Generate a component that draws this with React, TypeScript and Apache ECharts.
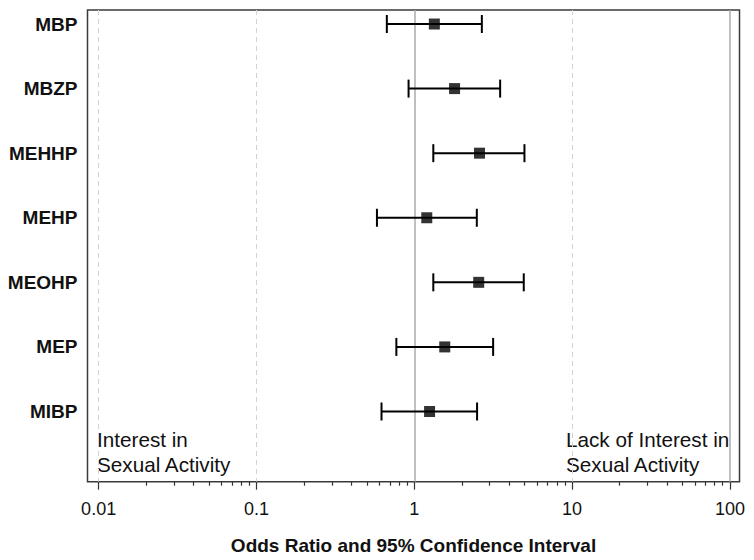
import React, { useEffect, useRef } from "react";
import * as echarts from "echarts";

const categories = ["MBP", "MBZP", "MEHHP", "MEHP", "MEOHP", "MEP", "MIBP"];
const oddsRatios = [1.34, 1.8, 2.59, 1.2, 2.56, 1.56, 1.25];
const lowerCI = [0.67, 0.92, 1.32, 0.58, 1.32, 0.77, 0.62];
const upperCI = [2.68, 3.5, 4.99, 2.49, 4.94, 3.16, 2.5];

const majorTicks = [0.01, 0.1, 1, 10, 100];
const majorTickLabels = ["0.01", "0.1", "1", "10", "100"];
const minorTicks = [
  0.02, 0.03, 0.04, 0.05, 0.06, 0.07, 0.08, 0.09,
  0.2, 0.3, 0.4, 0.5, 0.6, 0.7, 0.8, 0.9,
  2, 3, 4, 5, 6, 7, 8, 9,
  20, 30, 40, 50, 60, 70, 80, 90,
];
const solidRefLines = [1, 100];
const dashedRefLines = [0.01, 0.1, 10];
const xRange = [0.0085, 115];
const axisTitle = "Odds Ratio and 95% Confidence Interval";
const leftNote = "Interest in\nSexual Activity";
const rightNote = "Lack of Interest in\nSexual Activity";

const FONT = "'Liberation Sans', Arial, Helvetica, sans-serif";
const lg = (v: number) => Math.log10(v);

export default function App() {
  const ref = useRef<HTMLDivElement>(null);

  useEffect(() => {
    if (!ref.current) return;
    const chart = echarts.init(ref.current, null, { renderer: "svg" });

    const majorLog = majorTicks.map(lg);
    const minorLog = minorTicks.map(lg);
    const fmtMajor = (v: number) => {
      const i = majorLog.findIndex((m) => Math.abs(m - v) < 1e-6);
      return i >= 0 ? majorTickLabels[i] : "";
    };

    const ciData = categories.map((_, i) => [lg(lowerCI[i]), lg(upperCI[i]), i]);
    const pointData = categories.map((_, i) => [lg(oddsRatios[i]), i]);

    const option: any = {
      animation: false,
      backgroundColor: "#ffffff",
      textStyle: { fontFamily: FONT },
      grid: {
        left: 87.5,
        right: 14.5,
        top: 10,
        bottom: 78.3,
        show: true,
        borderColor: "#3a3a3a",
        borderWidth: 1.5,
        backgroundColor: "transparent",
        outerBoundsMode: "none",
        containLabel: false,
      },
      xAxis: [
        {
          type: "value",
          position: "bottom",
          min: lg(xRange[0]),
          max: lg(xRange[1]),
          axisLine: { show: false, onZero: false },
          axisTick: {
            show: true,
            customValues: majorLog,
            length: 8,
            lineStyle: { color: "#333", width: 1.2 },
          },
          axisLabel: {
            show: true,
            customValues: majorLog,
            formatter: fmtMajor,
            fontSize: 18,
            color: "#111",
            margin: 18,
            fontFamily: FONT,
          },
          splitLine: { show: false },
          name: axisTitle,
          nameLocation: "middle",
          nameGap: 54,
          nameMoveOverlap: false,
          nameTextStyle: {
            fontSize: 19,
            fontWeight: "bold",
            color: "#111",
            fontFamily: FONT,
          },
        },
        {
          type: "value",
          position: "bottom",
          min: lg(xRange[0]),
          max: lg(xRange[1]),
          axisLine: { show: false, onZero: false },
          axisTick: {
            show: true,
            customValues: minorLog,
            length: 4,
            lineStyle: { color: "#333", width: 1.2 },
          },
          axisLabel: { show: false },
          splitLine: { show: false },
        },
      ],
      yAxis: {
        type: "value",
        inverse: true,
        min: -0.217,
        max: 7.087,
        axisLine: { show: false, onZero: false },
        axisTick: { show: false },
        splitLine: { show: false },
        axisLabel: {
          show: true,
          customValues: categories.map((_, i) => i),
          formatter: (v: number) => categories[Math.round(v)] ?? "",
          fontSize: 19,
          fontWeight: "bold",
          color: "#111",
          margin: 10,
          fontFamily: FONT,
        },
      },
      series: [
        {
          type: "custom",
          xAxisIndex: 0,
          yAxisIndex: 0,
          z: 3,
          data: ciData,
          encode: { x: [0, 1], y: 2 },
          renderItem: (_params: any, api: any) => {
            const lo = api.coord([api.value(0), api.value(2)]);
            const hi = api.coord([api.value(1), api.value(2)]);
            const h = 9;
            const st = { stroke: "#000", lineWidth: 2 };
            return {
              type: "group",
              children: [
                { type: "line", shape: { x1: lo[0], y1: lo[1], x2: hi[0], y2: hi[1] }, style: st },
                { type: "line", shape: { x1: lo[0], y1: lo[1] - h, x2: lo[0], y2: lo[1] + h }, style: st },
                { type: "line", shape: { x1: hi[0], y1: hi[1] - h, x2: hi[0], y2: hi[1] + h }, style: st },
              ],
            };
          },
          silent: true,
          markLine: {
            silent: true,
            z: 1,
            symbol: ["none", "none"],
            label: { show: false },
            lineStyle: { color: "#d2d2d2", type: [5, 4], width: 1 },
            data: dashedRefLines.map((v) => ({ xAxis: lg(v) })),
          },
        },
        {
          type: "scatter",
          xAxisIndex: 0,
          yAxisIndex: 0,
          z: 4,
          data: pointData,
          symbol: "rect",
          symbolSize: 11,
          itemStyle: { color: "#000" },
          silent: true,
          markLine: {
            silent: true,
            z: 1,
            symbol: ["none", "none"],
            label: { show: false },
            lineStyle: { color: "#ababab", type: "solid", width: 1.5 },
            data: solidRefLines.map((v) => ({ xAxis: lg(v) })),
          },
        },
      ],
      graphic: [
        {
          type: "text",
          left: 97,
          top: 427,
          style: {
            text: leftNote,
            fontSize: 20.7,
            lineHeight: 25,
            fill: "#111",
            fontFamily: FONT,
          },
        },
        {
          type: "text",
          left: 566,
          top: 427,
          style: {
            text: rightNote,
            fontSize: 20.7,
            lineHeight: 25,
            fill: "#111",
            fontFamily: FONT,
          },
        },
      ],
    };

    chart.setOption(option);
    return () => chart.dispose();
  }, []);

  return (
    <div
      ref={ref}
      style={{ position: "fixed", left: 0, top: 0, width: 754, height: 560, background: "#fff" }}
    />
  );
}
